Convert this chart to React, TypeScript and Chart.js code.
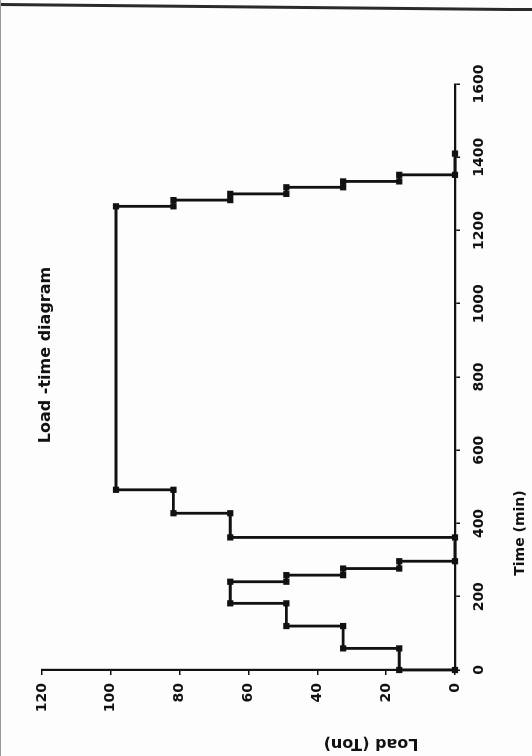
import React, { useEffect, useRef } from "react";
import { Chart, registerables } from "chart.js";

Chart.register(...registerables);

// ---- text ----
const chartTitle = "Load -time diagram";
const timeAxisTitle = "Time (min)";
const loadAxisTitle = "Load (Ton)";

// ---- axes ----
const timeTicks = [0, 200, 400, 600, 800, 1000, 1200, 1400, 1600];
const loadTicks = [0, 20, 40, 60, 80, 100, 120];

// ---- series (step profile) ----
const timeMin = [
  0, 0, 59, 59, 120, 120, 182, 182, 241, 241, 259, 259, 277, 277, 297, 297,
  362, 362, 428, 428, 492, 492, 1266, 1266, 1283, 1283, 1300, 1300, 1318, 1318,
  1334, 1334, 1352, 1352, 1410,
];
const loadTon = [
  0, 16.2, 16.2, 32.5, 32.5, 49, 49, 65.3, 65.3, 49, 49, 32.5, 32.5, 16.2, 16.2, 0,
  0, 65.3, 65.3, 81.8, 81.8, 98.5, 98.5, 81.8, 81.8, 65.3, 65.3, 49, 49, 32.5,
  32.5, 16.2, 16.2, 0, 0,
];

const INK = "#111111";
const FONT = "'DejaVu Sans', 'Liberation Sans', sans-serif";

export default function App() {
  const ref = useRef<HTMLCanvasElement | null>(null);

  useEffect(() => {
    const canvas = ref.current;
    if (!canvas) return;

    const textPlugin = {
      id: "freeText",
      afterDraw(chart: any) {
        const ctx = chart.ctx as CanvasRenderingContext2D;
        ctx.save();
        ctx.fillStyle = INK;
        ctx.textAlign = "center";
        ctx.textBaseline = "middle";
        ctx.font = `bold 16px ${FONT}`;
        ctx.fillText(chartTitle, 401, 46);
        ctx.font = `bold 14px ${FONT}`;
        ctx.fillText(timeAxisTitle, 223, 520);
        ctx.translate(13, 371);
        ctx.rotate(-Math.PI / 2);
        ctx.font = `bold 16px ${FONT}`;
        ctx.fillText(loadAxisTitle, 0, 0);
        ctx.restore();
      },
    };

    const points = timeMin.map((t, i) => ({ x: t, y: loadTon[i] }));
    const plain = (v: any) => String(v);

    const chart = new Chart(canvas, {
      type: "scatter",
      data: {
        datasets: [
          {
            data: points,
            showLine: true,
            clip: false,
            borderColor: INK,
            borderWidth: 2.8,
            backgroundColor: INK,
            pointBackgroundColor: INK,
            pointBorderColor: INK,
            pointBorderWidth: 0,
            pointStyle: "rect",
            pointRadius: 4.4,
            tension: 0,
          },
        ],
      },
      options: {
        responsive: false,
        animation: false,
        devicePixelRatio: 1,
        layout: { padding: { top: 42, right: 84, left: 0, bottom: 0 } },
        plugins: {
          legend: { display: false },
          tooltip: { enabled: false },
          title: { display: false },
        },
        scales: {
          x: {
            type: "linear",
            position: "bottom",
            min: timeTicks[0],
            max: timeTicks[timeTicks.length - 1],
            afterBuildTicks: (s: any) => {
              s.ticks = timeTicks.map((v) => ({ value: v }));
            },
            afterFit: (s: any) => {
              s.height = 77;
            },
            ticks: {
              color: INK,
              font: { family: FONT, size: 14, weight: "bold" },
              padding: 11,
              maxRotation: 0,
              autoSkip: false,
              callback: plain,
            },
            grid: {
              drawOnChartArea: false,
              drawTicks: true,
              tickLength: 5,
              color: INK,
              lineWidth: 1.5,
            },
            border: { display: true, color: INK, width: 2.2 },
          },
          y: {
            type: "linear",
            min: loadTicks[0],
            max: loadTicks[loadTicks.length - 1],
            afterBuildTicks: (s: any) => {
              s.ticks = loadTicks.map((v) => ({ value: v }));
            },
            afterFit: (s: any) => {
              s.width = 86;
            },
            ticks: {
              color: INK,
              font: { family: FONT, size: 14, weight: "bold" },
              padding: 8,
              autoSkip: false,
              callback: plain,
            },
            grid: {
              drawOnChartArea: false,
              drawTicks: true,
              tickLength: 5,
              color: INK,
              lineWidth: 1.5,
            },
            border: { display: true, color: INK, width: 2.2 },
          },
        },
      },
      plugins: [textPlugin],
    });

    return () => chart.destroy();
  }, []);

  return (
    <div
      style={{
        position: "fixed",
        left: 0,
        top: 0,
        width: 532,
        height: 756,
        overflow: "hidden",
        background: "#fdfdfd",
      }}
    >
      <div
        style={{
          position: "absolute",
          left: 0,
          top: 3,
          width: 534,
          height: 3,
          background: "#2a2a2a",
          transform: "rotate(0.55deg)",
          transformOrigin: "left center",
        }}
      />
      <div
        style={{
          position: "absolute",
          left: 0,
          top: 0,
          width: 1,
          height: 756,
          background: "#9a9a9a",
        }}
      />
      <div
        style={{
          position: "absolute",
          left: -112,
          top: 112,
          width: 756,
          height: 532,
          transform: "rotate(-90deg)",
          transformOrigin: "50% 50%",
        }}
      >
        <canvas ref={ref} width={756} height={532} />
      </div>
    </div>
  );
}
